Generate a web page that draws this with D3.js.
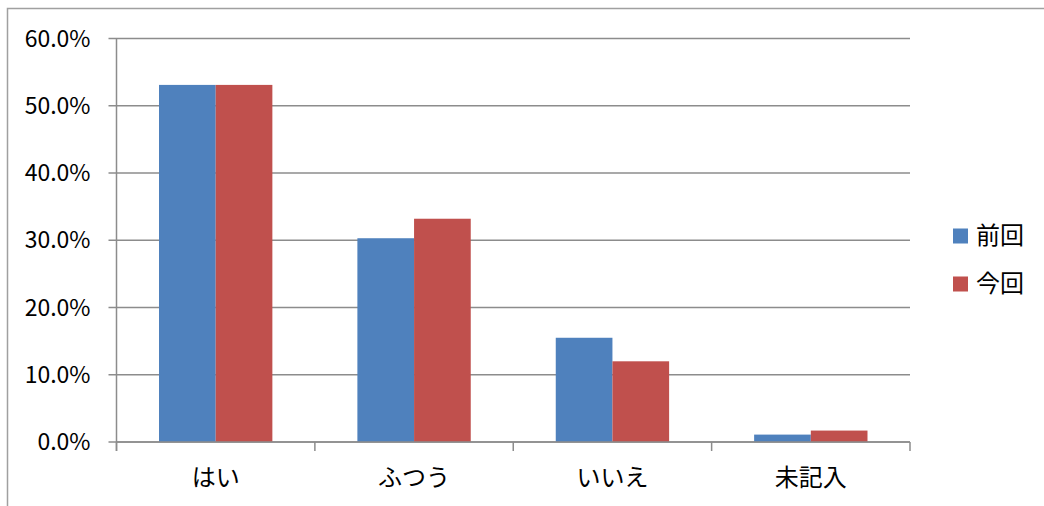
<!DOCTYPE html>
<html>
<head>
<meta charset="utf-8">
<script src="https://cdn.jsdelivr.net/npm/d3@7"></script>
<style>
  body { margin: 0; background: #fff; }
  text { font-family: "Noto Sans CJK JP", "Noto Sans", sans-serif; fill: #000; }
</style>
</head>
<body>
<svg id="chart" width="1044" height="506"></svg>
<script>
const categories = ["はい", "ふつう", "いいえ", "未記入"];
const seriesNames = ["前回", "今回"];
const previous = [53.1, 30.3, 15.5, 1.1];
const current = [53.1, 33.2, 12.0, 1.7];
const yTicks = [0, 10, 20, 30, 40, 50, 60];
const colors = ["#4F81BD", "#C0504D"];

const svg = d3.select("#chart");
const margin = { left: 116.5, right: 134, top: 38.5, bottom: 64 };
const width = 1044, height = 506;

// outer border
svg.append("rect")
    .attr("x", 7.5).attr("y", 8.5)
    .attr("width", 1044).attr("height", 520)
    .attr("fill", "none").attr("stroke", "#a0a0a0").attr("stroke-width", 1.5);

const x = d3.scaleBand()
    .domain(categories)
    .range([margin.left, width - margin.right]);

const x1 = d3.scaleBand()
    .domain(seriesNames)
    .range([0, x.bandwidth()])
    .paddingOuter(0.75);

const y = d3.scaleLinear()
    .domain([0, 60])
    .range([height - margin.bottom, margin.top]);

// gridlines
svg.append("g")
    .selectAll("line")
    .data(yTicks)
    .enter().append("line")
    .attr("x1", margin.left - 8).attr("x2", width - margin.right)
    .attr("y1", d => y(d)).attr("y2", d => y(d))
    .attr("stroke", "#8c8c8c").attr("stroke-width", 1.5);

// y labels
svg.append("g")
    .selectAll("text")
    .data(yTicks)
    .enter().append("text")
    .attr("x", margin.left - 26)
    .attr("y", d => y(d))
    .attr("dy", "0.35em")
    .attr("text-anchor", "end")
    .attr("font-size", 23)
    .text(d => d.toFixed(1) + "%");

// bars
const data = categories.map((c, i) => ({ cat: c, values: [previous[i], current[i]] }));
svg.append("g")
    .selectAll("g")
    .data(data)
    .enter().append("g")
    .attr("transform", d => `translate(${x(d.cat)},0)`)
    .selectAll("rect")
    .data(d => d.values.map((v, j) => ({ name: seriesNames[j], v, j })))
    .enter().append("rect")
    .attr("x", d => x1(d.name))
    .attr("width", x1.bandwidth())
    .attr("y", d => y(d.v))
    .attr("height", d => y(0) - y(d.v))
    .attr("fill", d => colors[d.j]);

// y axis line
svg.append("line")
    .attr("x1", margin.left).attr("x2", margin.left)
    .attr("y1", margin.top).attr("y2", y(0) + 9)
    .attr("stroke", "#8c8c8c").attr("stroke-width", 1.5);

// x axis line and ticks
svg.append("line")
    .attr("x1", margin.left).attr("x2", width - margin.right)
    .attr("y1", y(0)).attr("y2", y(0))
    .attr("stroke", "#8c8c8c").attr("stroke-width", 1.5);

const boundaries = categories.map(c => x(c) + x.bandwidth()).concat([margin.left]);
svg.append("g")
    .selectAll("line")
    .data(boundaries)
    .enter().append("line")
    .attr("x1", d => d).attr("x2", d => d)
    .attr("y1", y(0)).attr("y2", y(0) + 9)
    .attr("stroke", "#8c8c8c").attr("stroke-width", 1.5);

// x labels
svg.append("g")
    .selectAll("text")
    .data(categories)
    .enter().append("text")
    .attr("x", d => x(d) + x.bandwidth() / 2)
    .attr("y", y(0) + 36)
    .attr("dy", "0.35em")
    .attr("text-anchor", "middle")
    .attr("font-size", 24)
    .text(d => d);

// legend
const legend = svg.append("g")
    .selectAll("g")
    .data(seriesNames)
    .enter().append("g")
    .attr("transform", (d, i) => `translate(953,${236 + i * 48})`);

legend.append("rect")
    .attr("x", 0).attr("y", -7.5)
    .attr("width", 15).attr("height", 15)
    .attr("fill", (d, i) => colors[i]);

legend.append("text")
    .attr("x", 23).attr("y", 0)
    .attr("dy", "0.35em")
    .attr("font-size", 24)
    .text(d => d);
</script>
</body>
</html>
